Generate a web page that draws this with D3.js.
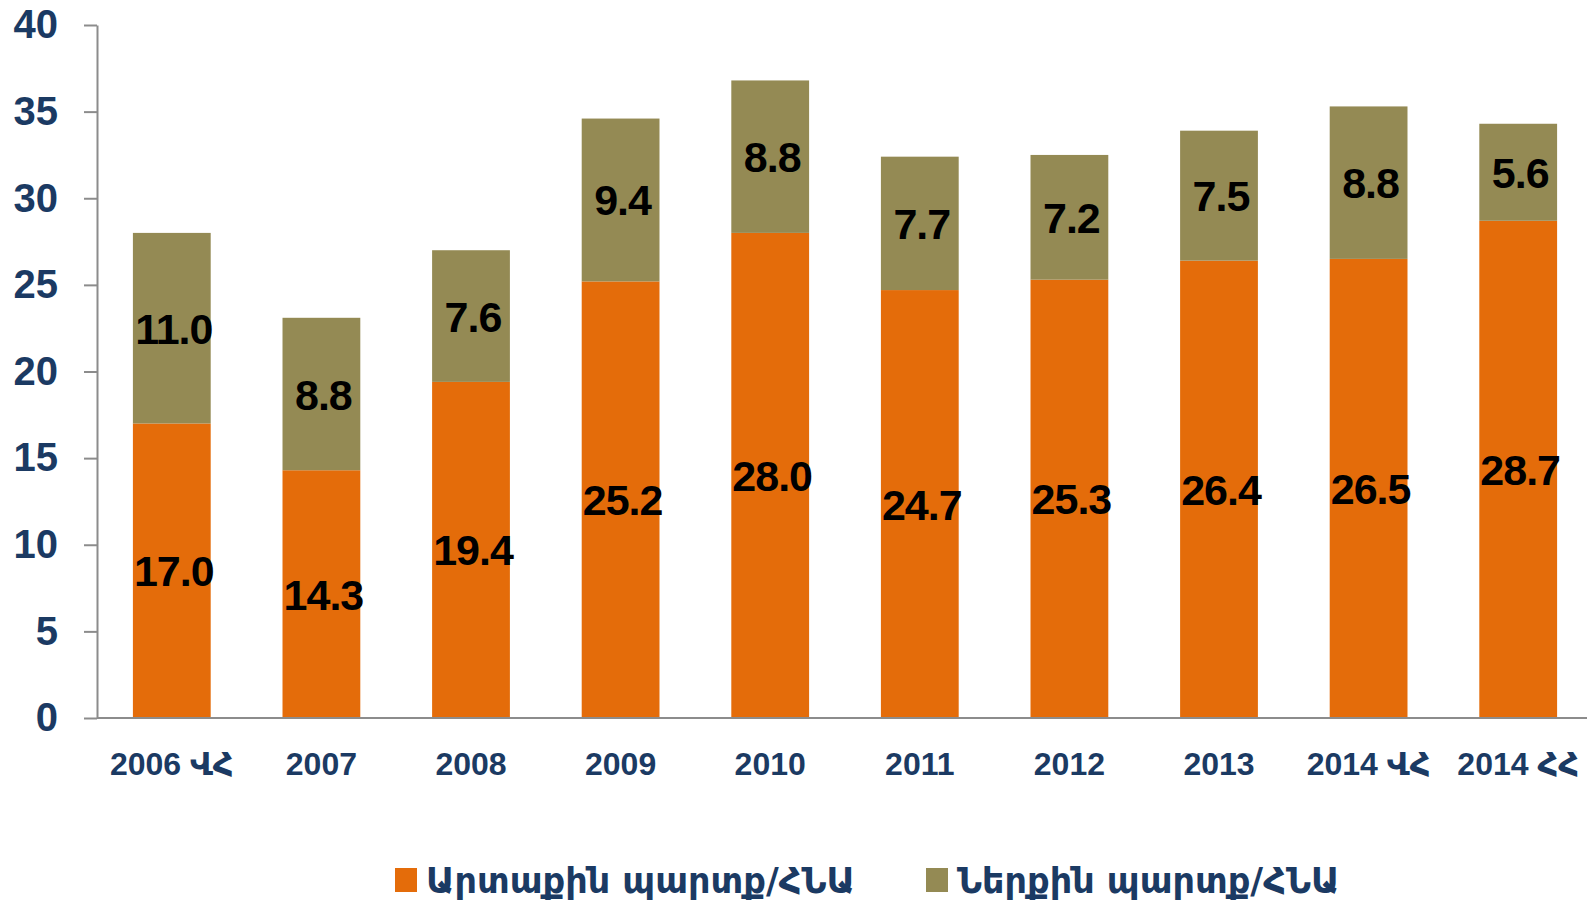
<!DOCTYPE html>
<html>
<head>
<meta charset="utf-8">
<script src="https://cdn.jsdelivr.net/npm/d3@7"></script>
<style>
  body { margin: 0; background: #fff; }
  svg { display: block; }
</style>
</head>
<body>
<div class="container"></div>
<script>
'use strict';

// Chart data: debt to GDP, external and domestic parts
const categories = ["2006 ՎՀ", "2007", "2008", "2009", "2010", "2011", "2012", "2013", "2014 ՎՀ", "2014 ՀՀ"];
const externalDebt = [17.0, 14.3, 19.4, 25.2, 28.0, 24.7, 25.3, 26.4, 26.5, 28.7];
const domesticDebt = [11.0, 8.8, 7.6, 9.4, 8.8, 7.7, 7.2, 7.5, 8.8, 5.6];
const seriesNames = ["Արտաքին պարտք/ՀՆԱ", "Ներքին պարտք/ՀՆԱ"];
const yTicks = [0, 5, 10, 15, 20, 25, 30, 35, 40];

const width = 1587;
const height = 903;
const colors = ["#E46C0A", "#948A54"];
const textBlue = "#1B3A63";
const axisGray = "#8C8C8C";
const baseFont = "'Liberation Sans', 'DejaVu Sans', sans-serif";

const svg = d3.select("div.container").append("svg")
    .attr("width", width)
    .attr("height", height);

const x = d3.scaleBand()
    .domain(categories)
    .range([97, 1593])
    .paddingInner(0.48)
    .paddingOuter(0.24);

const y = d3.scaleLinear()
    .domain([0, 40])
    .range([718, 25]);

// build stacked rows
const rows = categories.map((c, i) => ({cat: c, ext: externalDebt[i], dom: domesticDebt[i]}));
const stack = d3.stack().keys(["ext", "dom"]);
const layers = stack(rows);

const g = svg.append("g");

layers.forEach((layer, li) => {
  g.selectAll(null)
    .data(layer)
    .enter()
    .append("rect")
    .attr("x", d => x(d.data.cat))
    .attr("y", d => y(d[1]))
    .attr("width", x.bandwidth())
    .attr("height", d => y(d[0]) - y(d[1]))
    .attr("fill", colors[li]);

  g.selectAll(null)
    .data(layer)
    .enter()
    .append("text")
    .attr("x", d => x(d.data.cat) + x.bandwidth() / 2 + 2)
    .attr("y", d => (y(d[0]) + y(d[1])) / 2)
    .attr("dy", "0.36em")
    .attr("text-anchor", "middle")
    .style("font-family", baseFont)
    .style("font-weight", "bold")
    .style("font-size", "43px")
    .style("letter-spacing", "-1px")
    .attr("fill", "#000")
    .text(d => (d[1] - d[0]).toFixed(1));
});

// y axis
const yAxis = d3.axisLeft(y)
    .tickValues(yTicks)
    .tickSize(13)
    .tickPadding(26)
    .tickSizeOuter(0);

const yg = svg.append("g")
    .attr("transform", "translate(97,0)")
    .call(yAxis);
yg.select(".domain").attr("stroke", axisGray).attr("stroke-width", 2);
yg.selectAll(".tick line").attr("stroke", axisGray).attr("stroke-width", 2);
yg.selectAll(".tick text")
    .attr("fill", textBlue)
    .style("font-family", baseFont)
    .style("font-weight", "bold")
    .style("font-size", "40px");

// x axis
const xAxis = d3.axisBottom(x).tickSize(0).tickPadding(34).tickSizeOuter(0);
const xg = svg.append("g")
    .attr("transform", "translate(0,718)")
    .call(xAxis);
xg.select(".domain").attr("stroke", axisGray).attr("stroke-width", 2)
    .attr("d", "M97,0H" + width);
xg.selectAll(".tick text")
    .attr("fill", textBlue)
    .style("font-family", baseFont)
    .style("font-weight", "bold")
    .style("font-size", "32px");

// legend
const legendX = [395, 926];
const legend = svg.append("g");
seriesNames.forEach((name, i) => {
  legend.append("rect")
    .attr("x", legendX[i])
    .attr("y", 868)
    .attr("width", 22)
    .attr("height", 24)
    .attr("fill", colors[i]);
  legend.append("text")
    .attr("x", legendX[i] + 31)
    .attr("y", 893)
    .attr("fill", textBlue)
    .style("font-family", "'DejaVu Sans', sans-serif")
    .style("font-weight", "bold")
    .style("font-size", "35px")
    .text(name);
});
</script>
</body>
</html>
